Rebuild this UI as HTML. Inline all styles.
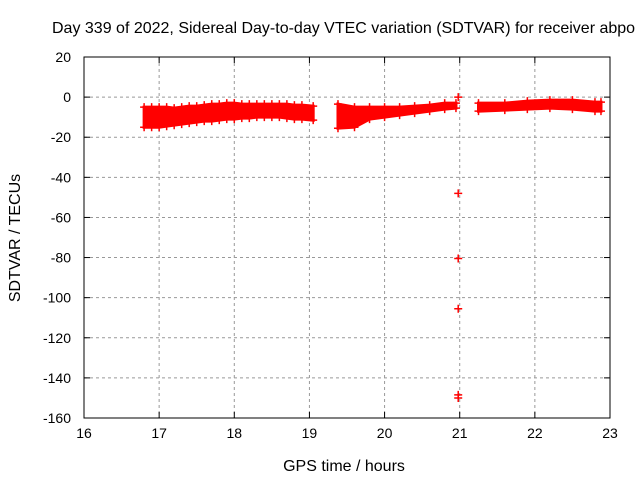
<!DOCTYPE html>
<html><head><meta charset="utf-8"><style>
body{margin:0;background:#fff}
svg{display:block;font-family:"Liberation Sans",sans-serif}
</style></head><body>
<svg id="chart" width="640" height="480" viewBox="0 0 640 480" xmlns="http://www.w3.org/2000/svg">
<text x="52" y="33" font-size="16" fill="#000">Day 339 of 2022, Sidereal Day-to-day VTEC variation (SDTVAR) for receiver abpo</text>
<g id="grid"></g>
<g id="marks"></g>
<rect x="84" y="57" width="526" height="361" fill="none" stroke="#000" stroke-width="1"/>
<g id="ticks"></g>
<text x="344" y="471" font-size="16" text-anchor="middle">GPS time / hours</text>
<text x="0" y="0" font-size="16" text-anchor="middle" transform="translate(20,238) rotate(-90)">SDTVAR / TECUs</text>
</svg>
<script>
const xTicks=[16,17,18,19,20,21,22,23];
const yTicks=[20,0,-20,-40,-60,-80,-100,-120,-140,-160];
const seg1T=[16.8,16.9,17.0,17.1,17.2,17.3,17.4,17.5,17.6,17.7,17.8,17.9,18.0,18.1,18.2,18.3,18.4,18.5,18.6,18.7,18.8,18.9,19.05];
const seg1Hi=[-5,-5,-5,-5,-5.5,-5,-4.5,-4.5,-4,-3.5,-3.5,-3,-3,-3.5,-3.5,-3.5,-3.5,-3.5,-3.5,-3.5,-4,-4,-4.5];
const seg1Lo=[-15,-15,-15,-14.5,-14,-13.5,-13,-12.5,-12,-12,-11.5,-11,-11,-10.5,-10.5,-10,-10,-10,-10,-10.5,-11,-11,-11.5];
const seg2T=[19.38,19.6,19.8,20.0,20.2,20.4,20.6,20.8,20.95];
const seg2Hi=[-3.5,-5,-5,-5,-5,-4.5,-4,-3,-3];
const seg2Lo=[-15.5,-15,-11,-10,-9,-8,-7,-6,-5.5];
const seg3T=[21.25,21.6,21.9,22.2,22.5,22.8,22.88];
const seg3Hi=[-3,-3,-2,-1.5,-1.5,-2.5,-2.5];
const seg3Lo=[-7,-6.5,-6,-5.5,-6,-7,-7];
const outT=[20.98,20.98,20.98,20.98,20.98,20.98];
const outV=[0,-48,-80.5,-105.5,-148.5,-150];
const X0=84,X1=610,Y0=57,Y1=418;
const sx=t=>X0+(t-16)/(23-16)*(X1-X0);
const sy=v=>Y0+(20-v)/(20+160)*(Y1-Y0);
const NS="http://www.w3.org/2000/svg";
function mk(tag,parent,attrs){const e=document.createElementNS(NS,tag);for(const k in attrs)e.setAttribute(k,attrs[k]);parent.appendChild(e);return e;}
const grid=document.getElementById('grid'),ticks=document.getElementById('ticks'),marks=document.getElementById('marks');
xTicks.forEach(t=>{const x=sx(t);
 if(t>16&&t<23){const g=mk('line',grid,{x1:x,x2:x,y1:Y0,y2:Y1,stroke:'#999','stroke-dasharray':'3,3'});
 
 }
 mk('line',ticks,{x1:x,x2:x,y1:Y1,y2:Y1-6,stroke:'#000'});
 mk('line',ticks,{x1:x,x2:x,y1:Y0,y2:Y0+6,stroke:'#000'});
 const l=mk('text',ticks,{x:x,y:Y1+20,'font-size':14,'text-anchor':'middle'});l.textContent=t;
 
 
});
yTicks.forEach(v=>{const y=sy(v);
 if(v<20&&v>-160){const g=mk('line',grid,{x1:X0,x2:X1,y1:y,y2:y,stroke:'#999','stroke-dasharray':'3,3'});
 
 }
 mk('line',ticks,{x1:X0,x2:X0+6,y1:y,y2:y,stroke:'#000'});
 mk('line',ticks,{x1:X1,x2:X1-6,y1:y,y2:y,stroke:'#000'});
 const l=mk('text',ticks,{x:71,y:y+5,'font-size':14,'text-anchor':'end'});l.textContent=v;
 
 
});
function cross(t,v){const x=sx(t),y=sy(v);
 const p=mk('path',marks,{d:`M${x-4} ${y}H${x+4}M${x} ${y-4}V${y+4}`,stroke:'#f00','stroke-width':1.5});
 
 }
function band(T,H,L,name){
 let d='M'+T.map((t,i)=>sx(t)+' '+sy(H[i])).join('L');
 d+='L'+T.map((t,i)=>sx(t)+' '+sy(L[i])).reverse().join('L')+'Z';
 const p=mk('path',marks,{d:d,fill:'#f00',stroke:'#f00','stroke-width':3});
 
 
 T.forEach((t,i)=>{cross(t,H[i]);cross(t,L[i]);});
}
band(seg1T,seg1Hi,seg1Lo,'band-segment-1');
band(seg2T,seg2Hi,seg2Lo,'band-segment-2');
band(seg3T,seg3Hi,seg3Lo,'band-segment-3');
outT.forEach((t,i)=>cross(t,outV[i]));
</script>
</body></html>
